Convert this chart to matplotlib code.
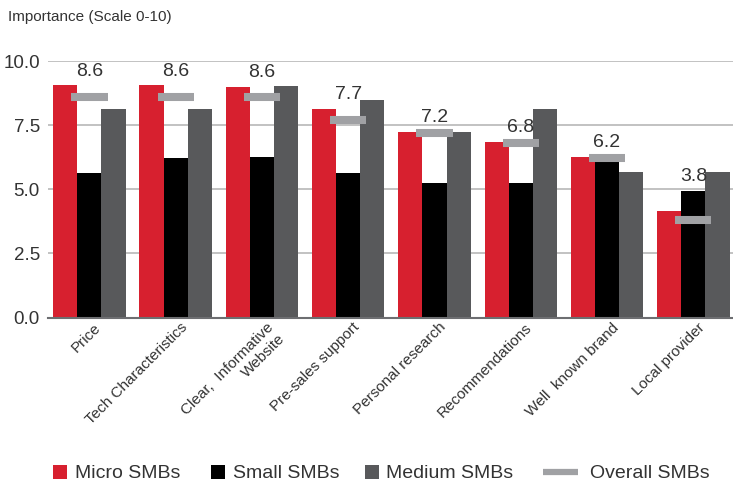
import matplotlib
matplotlib.use("Agg")
import matplotlib.pyplot as plt
from matplotlib.patches import Rectangle
from matplotlib.lines import Line2D
import numpy as np

plt.rcParams['font.family'] = ['Liberation Sans', 'DejaVu Sans']

categories = ["Price", "Tech Characteristics", "Clear,  Informative\nWebsite",
              "Pre-sales support", "Personal research", "Recommendations",
              "Well  known brand", "Local provider"]
micro = [9.05, 9.05, 9.0, 8.13, 7.23, 6.84, 6.26, 4.15]
small = [5.63, 6.22, 6.26, 5.63, 5.24, 5.24, 6.14, 4.93]
medium = [8.13, 8.13, 9.02, 8.48, 7.23, 8.13, 5.67, 5.67]
overall = [8.6, 8.6, 8.6, 7.7, 7.2, 6.8, 6.2, 3.8]
yticks = [0.0, 2.5, 5.0, 7.5, 10.0]
series_names = ["Micro SMBs", "Small SMBs", "Medium SMBs", "Overall SMBs"]

RED = "#D7202F"
BLACK = "#000000"
DGRAY = "#58595B"
LGRAY = "#A0A1A4"
TXT = "#333333"

W, H = 733, 484
fig = plt.figure(figsize=(W / 100, H / 100), dpi=100)
ax = fig.add_axes([48 / W, 1 - 317.5 / H, (W - 48) / W, (317.5 - 61) / H])

x = np.arange(len(categories))
w = 0.28
ax.bar(x - w, micro, w, color=RED, zorder=2)
ax.bar(x, small, w, color=BLACK, zorder=2)
ax.bar(x + w, medium, w, color=DGRAY, zorder=2)

# overall markers: short horizontal bars centred on each group,
# value labels sit above the taller of the two left-hand bars
for i, v in enumerate(overall):
    ax.plot([x[i] - 0.21, x[i] + 0.21], [v, v], color=LGRAY, lw=5.8,
            solid_capstyle='butt', zorder=3)
    ax.text(x[i], max(micro[i], small[i]) + 0.38, f"{v:.1f}", ha='center',
            va='baseline', fontsize=14, color=TXT, zorder=4)

ax.set_xlim(-0.48, 7.46)
ax.set_ylim(0, 10)
ax.set_yticks(yticks)
ax.set_yticklabels([f"{t:.1f}" for t in yticks], fontsize=13.5, color=TXT)
ax.yaxis.grid(True, color="#BDBDBD", lw=1.3, zorder=0)
ax.tick_params(axis='y', length=0, pad=5.8)
ax.tick_params(axis='x', length=0, pad=2)
for s in ["top", "right", "left"]:
    ax.spines[s].set_visible(False)
ax.spines["bottom"].set_color("#6D6E71")
ax.spines["bottom"].set_linewidth(1.5)
ax.spines["bottom"].set_zorder(5)

ax.set_xticks(x + 0.05)
ax.set_xticklabels(categories, rotation=45, ha='right', va='top',
                   rotation_mode='anchor', fontsize=11, color=TXT,
                   multialignment='right')

fig.text(8 / W, 1 - 17 / H, "Importance (Scale 0-10)", fontsize=11,
         color=TXT, va='center', ha='left')

# legend row drawn in figure pixel coordinates
leg_y = 472
swatches = [(53, RED), (211, BLACK), (365, DGRAY)]
text_x = [75, 233, 386, 590]
for (sx, c) in swatches:
    fig.add_artist(Rectangle((sx / W, 1 - (leg_y + 7) / H), 14 / W, 14 / H,
                             transform=fig.transFigure, color=c, lw=0))
fig.add_artist(Line2D([543 / W, 578 / W], [1 - leg_y / H, 1 - leg_y / H],
                      transform=fig.transFigure, color=LGRAY, lw=4.5,
                      solid_capstyle='butt'))
for tx, name in zip(text_x, series_names):
    fig.text(tx / W, 1 - leg_y / H, name, fontsize=14, color=TXT,
             ha='left', va='center_baseline')

fig.savefig("out.png", dpi=100)
